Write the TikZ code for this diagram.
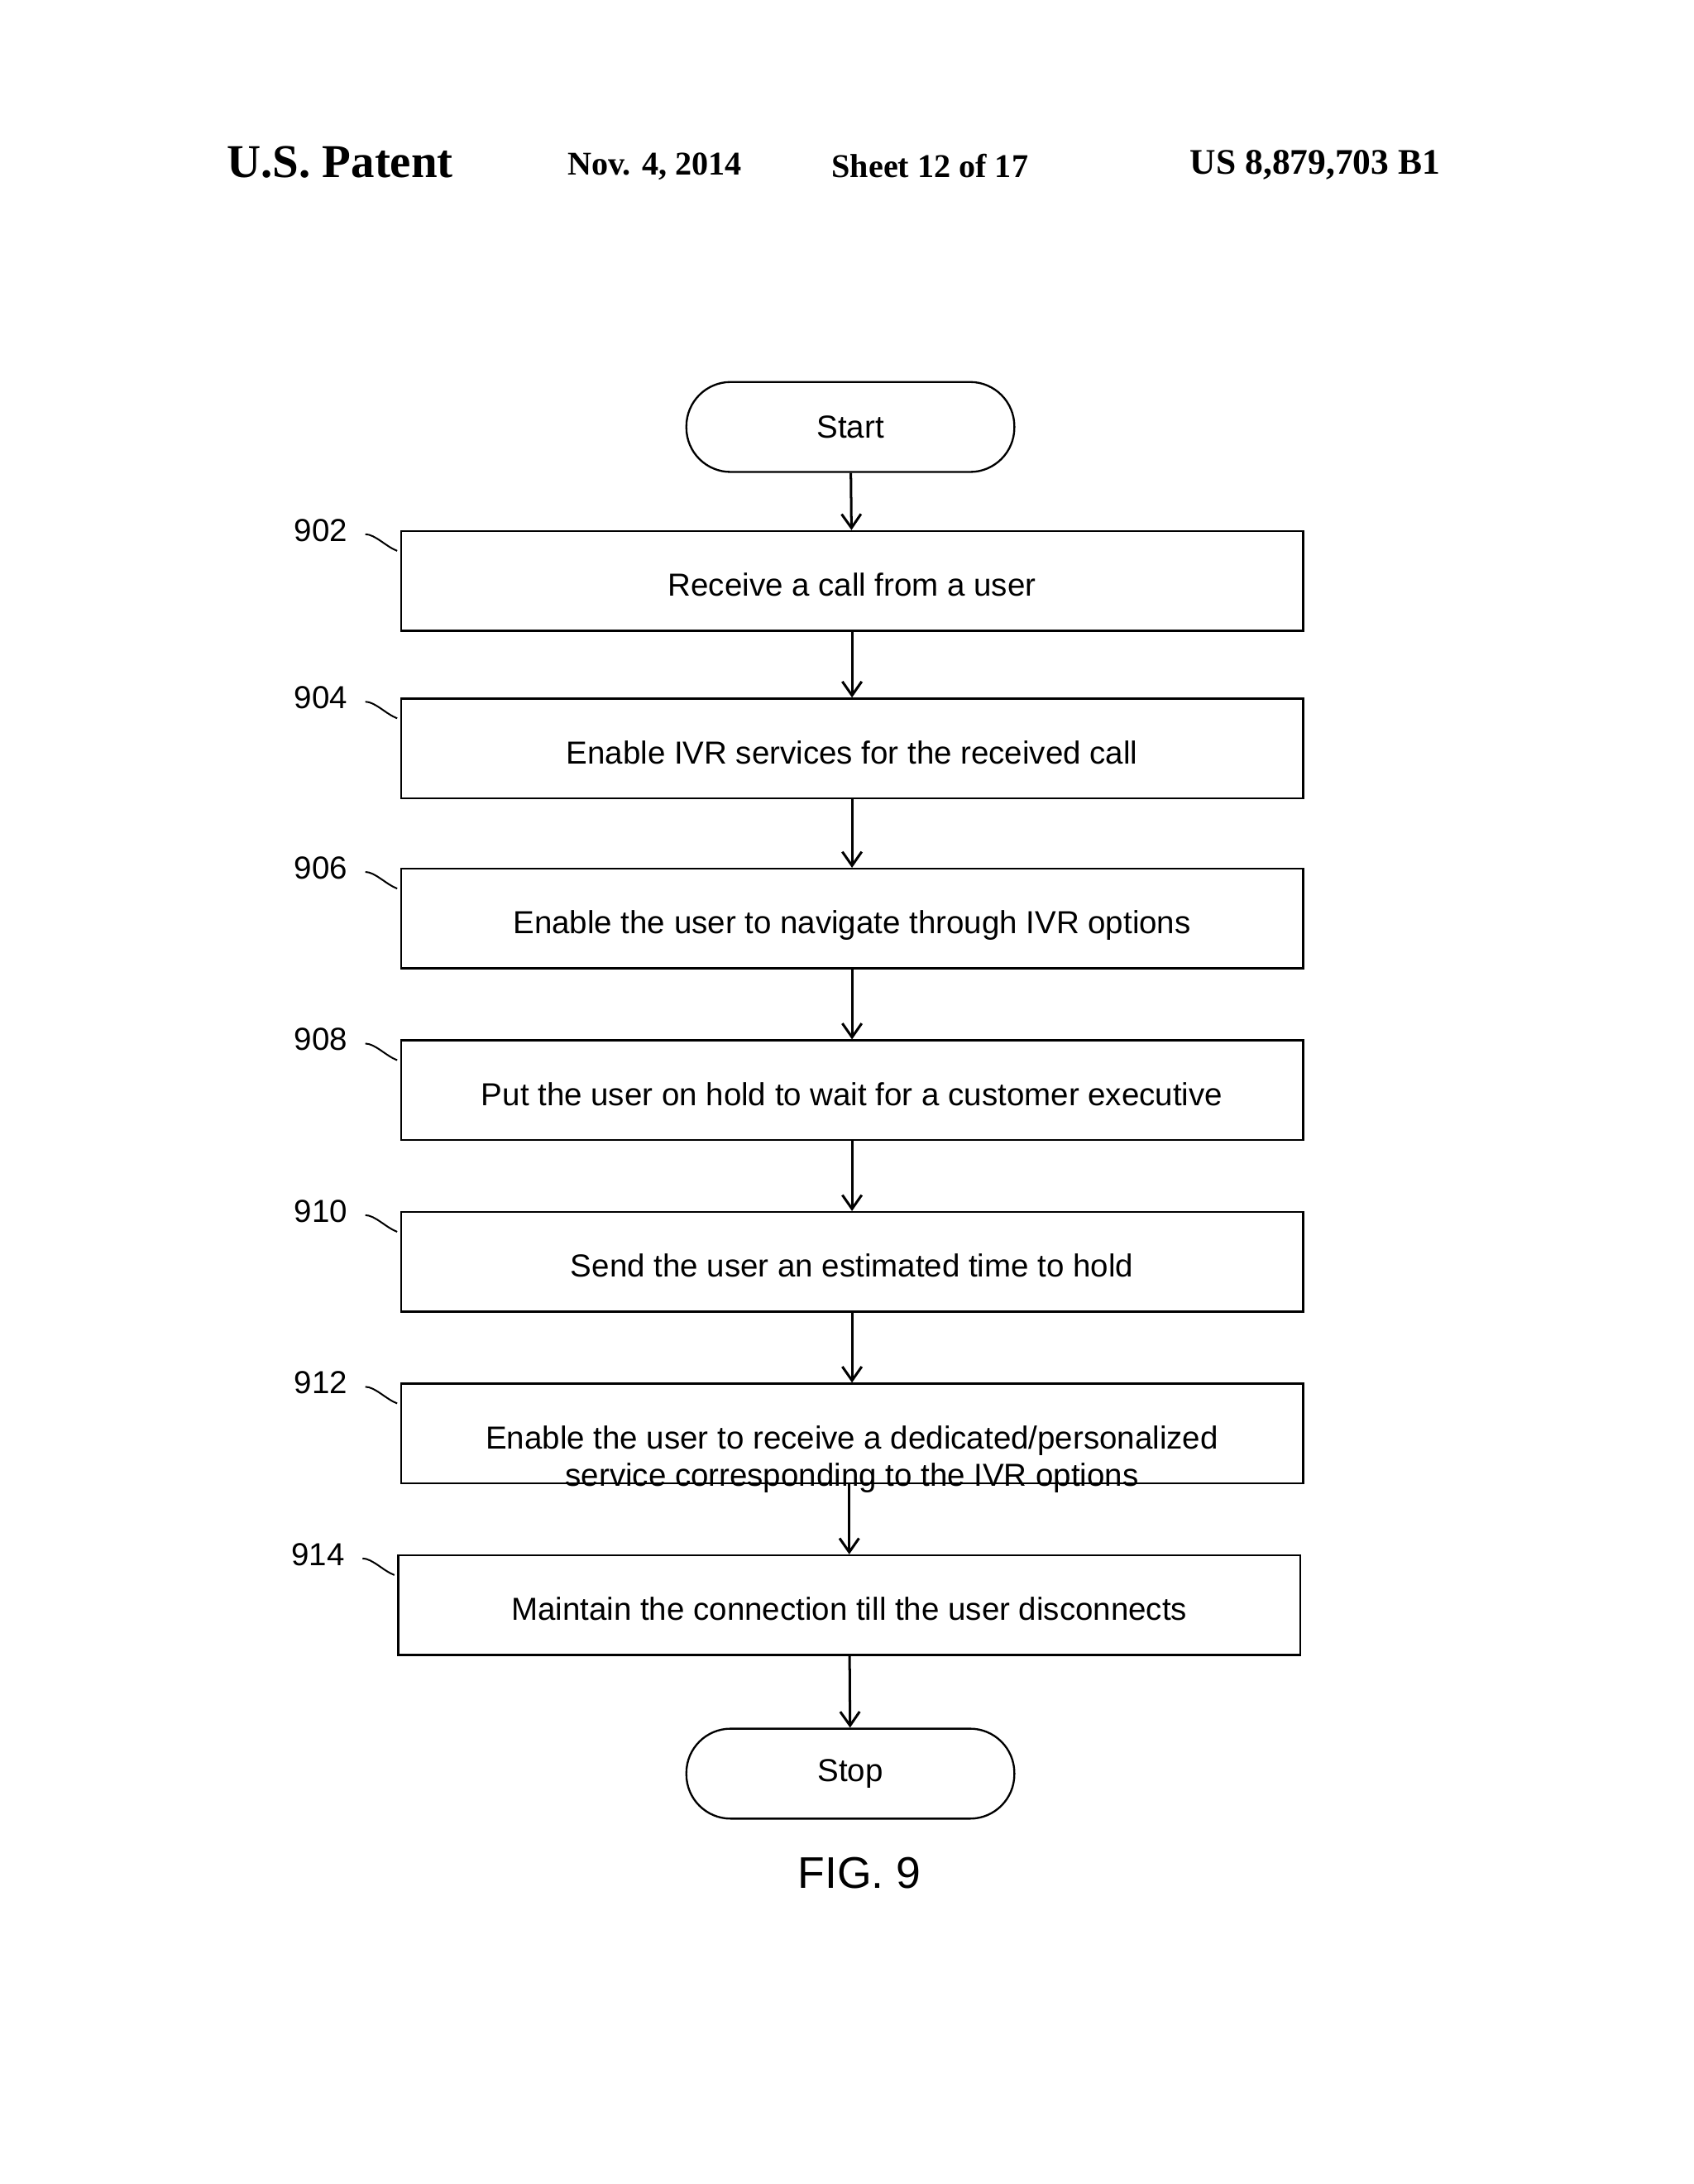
\documentclass[tikz,border=0pt]{standalone}
\usepackage{fontspec}
\setmainfont{Liberation Sans}
\newfontfamily\hdr{Liberation Serif}
\usetikzlibrary{arrows.meta}
\begin{document}
\begin{tikzpicture}[x=0.5pt,y=-0.5pt,
  box/.style={draw,line width=0.7pt,minimum width=326pt,minimum height=36pt,anchor=north west,inner sep=0pt},
  txt/.style={font=\fontsize{11.5}{13.5}\selectfont,align=center,anchor=north},
  term/.style={draw,line width=0.7pt,rounded corners=16pt,minimum width=118.5pt,minimum height=32.5pt,font=\fontsize{11.5}{13.5}\selectfont},
  arr/.style={-{Straight Barb[length=5pt,width=7pt]},line width=0.9pt},
  lab/.style={font=\fontsize{11.5}{13.5}\selectfont},
  sq/.style={line width=0.6pt}]
\useasboundingbox (0,0) rectangle (1224,1578);
\node[font=\hdr\bfseries\fontsize{17}{20}\selectfont,anchor=west] (h1) at (157,117) {U.S. Patent};
\node[font=\hdr\bfseries\fontsize{12}{14}\selectfont,anchor=west] (h2) at (403,120) {Nov. 4, 2014};
\node[font=\hdr\bfseries\fontsize{12}{14}\selectfont,anchor=west] (h3) at (594,120) {Sheet 12 of 17};
\node[font=\hdr\bfseries\fontsize{13}{15}\selectfont,anchor=west] (h4) at (853,119) {US 8,879,703 B1};

\node[term] (start) at (614.5,308.5) {Start};
\foreach \n/\y/\x/\t in {902/383/289/Receive a call from a user,
  904/504/289/Enable IVR services for the received call,
  906/627/289/Enable the user to navigate through IVR options,
  908/751/289/Put the user on hold to wait for a customer executive,
  910/875/289/Send the user an estimated time to hold,
  912/999/289/{Enable the user to receive a dedicated/personalized\\service corresponding to the IVR options},
  914/1123/287/Maintain the connection till the user disconnects}{
  \node[box] (b\n) at (\x,\y) {};
  \node[txt] (t\n) at ([yshift=-12pt]b\n.north) {\t};
  \node[lab,anchor=east] (l\n) at (\x-31,\y) {\n};
  \draw[sq] (\x-25,\y+3) .. controls (\x-18,\y+3) and (\x-10,\y+12) .. (\x-2,\y+15);
}
\node[term] (stop) at (614.5,1281.5) {Stop};
\node[font=\fontsize{16}{19}\selectfont] (fig) at (621,1353) {FIG. 9};
\draw[arr] (start) -- (b902);
\draw[arr] (b902) -- (b904);
\draw[arr] (b904) -- (b906);
\draw[arr] (b906) -- (b908);
\draw[arr] (b908) -- (b910);
\draw[arr] (b910) -- (b912);
\draw[arr] (b912.south -| b914.north) -- (b914);
\draw[arr] (b914) -- (stop);
\end{tikzpicture}
\end{document}
